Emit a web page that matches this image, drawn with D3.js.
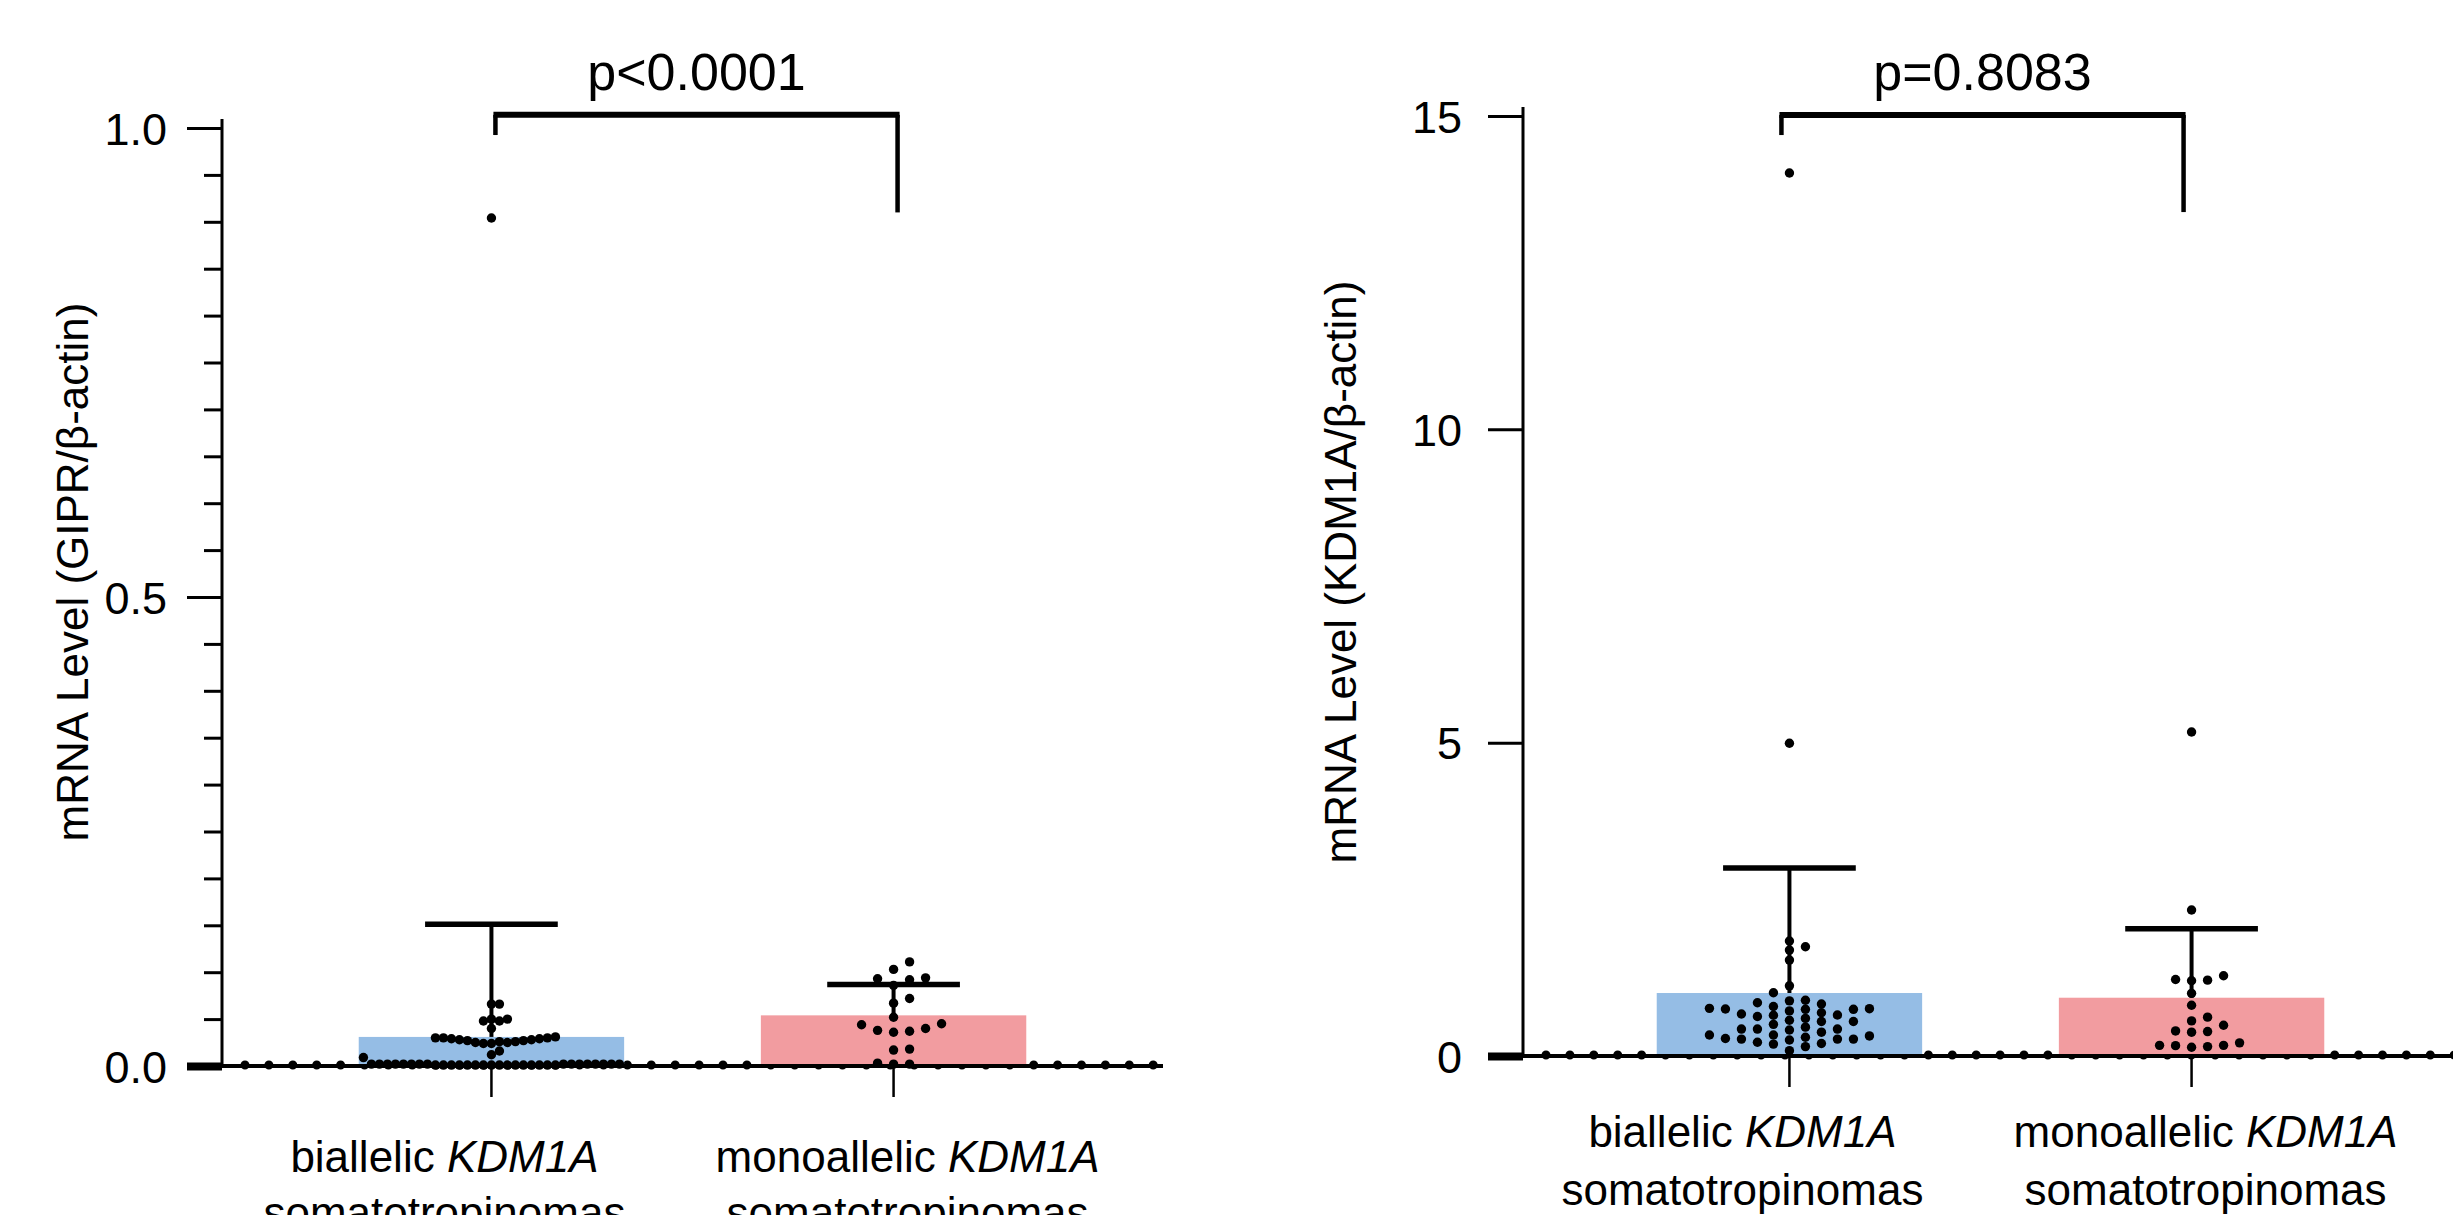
<!DOCTYPE html>
<html><head><meta charset="utf-8">
<script src="https://cdn.jsdelivr.net/npm/d3@7"></script>
<style>body{margin:0;background:#fff} svg{display:block}</style>
</head><body><svg id="c" width="2453" height="1215"></svg>
<script>
// ---------------- DATA ----------------
const categories = ["biallelic", "monoallelic"];
const labelLine1 = [["biallelic ", "KDM1A"], ["monoallelic ", "KDM1A"]];
const labelLine2 = ["somatotropinomas", "somatotropinomas"];

// Panel 1: GIPR / beta-actin
const giprBiallelic = [0.904, 0.066, 0.066, 0.050, 0.050, 0.048, 0.048, 0.040,
  0.031, 0.030, 0.030, 0.029, 0.028, 0.027, 0.026, 0.025, 0.024, 0.024, 0.025, 0.026, 0.027, 0.028, 0.029, 0.030,
  0.016, 0.012, 0.009,
  0.002, 0.001, 0.002, 0.001, 0.002, 0.001, 0.002, 0.001, 0.002, 0.001, 0.002, 0.001, 0.002, 0.001, 0.002, 0.001,
  0.002, 0.001, 0.002, 0.001, 0.002, 0.001, 0.002, 0.001, 0.002, 0.001, 0.002, 0.001, 0.002, 0.001, 0.002, 0.001];
const giprMonoallelic = [0.111, 0.103, 0.093, 0.092, 0.094, 0.086, 0.067, 0.072, 0.052, 0.045,
  0.037, 0.036, 0.038, 0.040, 0.044, 0.018, 0.017, 0.002, 0.003, 0.002];
const giprMean = [0.031, 0.054];
const giprSD = [0.120, 0.033];
const giprMajorTicks = [0, 0.5, 1.0];
const giprTickLabels = ["0.0", "0.5", "1.0"];
const giprMinorTicks = [0.05, 0.1, 0.15, 0.2, 0.25, 0.3, 0.35, 0.4, 0.45, 0.55, 0.6, 0.65, 0.7, 0.75, 0.8, 0.85, 0.9, 0.95];
const giprBracket = [1.014, 0.9925, 0.910]; // top, left leg end, right leg end
const giprP = "p<0.0001";
const giprTitle = "mRNA Level (GIPR/β-actin)";

// Panel 2: KDM1A / beta-actin
const kdmBiallelic = [14.09, 4.99, 1.835, 1.744, 1.69, 1.53, 1.12, 1.01,
  0.745, 0.335, 0.63, 0.43, 0.22, 0.88, 0.745, 0.505, 0.27, 0.654, 0.415, 0.27, 0.15,
  0.755, 0.6, 0.27, 0.67, 0.32, 0.19, 0.89, 0.76, 0.57, 0.46, 0.335, 0.2,
  0.85, 0.72, 0.55, 0.43, 0.255, 0.085, 0.83, 0.69, 0.55, 0.43, 0.28, 0.79, 0.65, 0.3, 0.75, 0.38];
const kdmMonoallelic = [5.17, 2.33, 1.28, 1.21, 1.22, 1.20, 1.0, 0.81, 0.62, 0.56, 0.49, 0.39, 0.38, 0.40,
  0.15, 0.21, 0.165, 0.17, 0.14, 0.17];
const kdmMean = [1.005, 0.93];
const kdmSD = [1.995, 1.10];
const kdmMajorTicks = [0, 5, 10, 15];
const kdmTickLabels = ["0", "5", "10", "15"];
const kdmMinorTicks = [];
const kdmBracket = [15.015, 14.696, 13.467];
const kdmP = "p=0.8083";
const kdmTitle = "mRNA Level (KDM1A/β-actin)";

// ---------------- LAYOUT ----------------
const FONT = "'Liberation Sans', Arial, Helvetica, sans-serif";
const colors = ["#95BDE5", "#F29CA0"];
const panels = [
  { groups: [giprBiallelic, giprMonoallelic], mean: giprMean, sd: giprSD, major: giprMajorTicks,
    labels: giprTickLabels, minor: giprMinorTicks, bracket: giprBracket, p: giprP, title: giprTitle,
    domainMax: 1.0, axisX: 222, y0: 1066, yMax: 128, tickPad: 20, titleX: 88, label1Y: 1172, lineGap: 56,
    steps: [8, 16], bracketDx: 4, bandOffset: 0 },
  { groups: [kdmBiallelic, kdmMonoallelic], mean: kdmMean, sd: kdmSD, major: kdmMajorTicks,
    labels: kdmTickLabels, minor: kdmMinorTicks, bracket: kdmBracket, p: kdmP, title: kdmTitle,
    domainMax: 15, axisX: 1523, y0: 1056, yMax: 116, tickPad: 26, titleX: 1356, label1Y: 1147, lineGap: 58,
    steps: [16, 16], bracketDx: -8, bandOffset: -3 }
];
const AXIS_LEN = 941, TICK = 35, MINOR = 18, R = 4.7, LABEL_DX = [-47, 14];

const svg = d3.select("#c");
svg.append("rect").attr("width", 2453).attr("height", 1215).attr("fill", "#fff");

function swarm(values, y, cx, step, dmin) {
  const pts = values.map(v => ({ v, y: y(v) })).sort((a, b) => a.v - b.v);
  const placed = [];
  for (const p of pts) {
    for (let k = 0; k < 400; k++) {
      const off = k === 0 ? 0 : (k % 2 === 1 ? Math.ceil(k / 2) : -k / 2);
      const x = cx + off * step;
      if (!placed.some(q => Math.abs(q.x - x) < step * 0.99 && Math.abs(q.y - p.y) < dmin)) {
        p.x = x; placed.push(p); break;
      }
    }
  }
  return placed;
}

panels.forEach(P => {
  const g = svg.append("g");
  const y = d3.scaleLinear().domain([0, P.domainMax]).range([P.y0, P.yMax]);
  const x = d3.scaleBand().domain(categories)
    .range([P.axisX + P.bandOffset, P.axisX + P.bandOffset + AXIS_LEN])
    .paddingInner(0.34).paddingOuter(0.34);
  const cx = c => x(c) + x.bandwidth() / 2;

  // minor ticks
  if (P.minor.length) {
    const minorAx = g.append("g").attr("transform", `translate(${P.axisX},0)`)
      .call(d3.axisLeft(y).tickValues(P.minor).tickSize(MINOR).tickFormat(""));
    minorAx.select(".domain").remove();
    minorAx.selectAll("line").attr("stroke", "#000").attr("stroke-width", 3);
  }
  // major ticks
  const majorAx = g.append("g").attr("transform", `translate(${P.axisX},0)`)
    .call(d3.axisLeft(y).tickValues(P.major).tickSize(TICK).tickPadding(P.tickPad)
      .tickFormat((d, i) => P.labels[i]));
  majorAx.select(".domain").remove();
  majorAx.selectAll("line").attr("stroke", "#000").attr("stroke-width", (d) => d === 0 ? 8 : 3);
  majorAx.selectAll("text").attr("font-family", FONT).attr("font-size", 45).attr("fill", "#000")
    .attr("dy", "0.36em");

  // y axis line
  g.append("line").attr("x1", P.axisX).attr("x2", P.axisX)
    .attr("y1", y(0)).attr("y2", y(P.domainMax) - 9).attr("stroke", "#000").attr("stroke-width", 3);

  // dotted pattern along x axis
  g.append("line").attr("x1", P.axisX + 23).attr("x2", P.axisX + AXIS_LEN)
    .attr("y1", y(0) - 1).attr("y2", y(0) - 1)
    .attr("stroke", "#000").attr("stroke-width", 9).attr("stroke-linecap", "round")
    .attr("stroke-dasharray", "0 23.9");

  // bars
  g.selectAll(".bar").data(categories).enter().append("rect")
    .attr("x", c => x(c)).attr("width", x.bandwidth())
    .attr("y", (c, i) => y(P.mean[i])).attr("height", (c, i) => y(0) - y(P.mean[i]) - 1)
    .attr("fill", (c, i) => colors[i]);

  // x axis line
  g.append("line").attr("x1", P.axisX).attr("x2", P.axisX + AXIS_LEN)
    .attr("y1", y(0)).attr("y2", y(0)).attr("stroke", "#000").attr("stroke-width", 4);

  // category ticks
  g.selectAll(".ct").data(categories).enter().append("line")
    .attr("x1", cx).attr("x2", cx).attr("y1", y(0)).attr("y2", y(0) + 31)
    .attr("stroke", "#000").attr("stroke-width", 2.5);

  // error bars
  categories.forEach((c, i) => {
    const top = y(P.mean[i] + P.sd[i]);
    g.append("line").attr("x1", cx(c)).attr("x2", cx(c)).attr("y1", y(P.mean[i])).attr("y2", top)
      .attr("stroke", "#000").attr("stroke-width", 4);
    g.append("line").attr("x1", cx(c) - x.bandwidth() / 4).attr("x2", cx(c) + x.bandwidth() / 4)
      .attr("y1", top).attr("y2", top).attr("stroke", "#000").attr("stroke-width", 5.5);
  });

  // data points
  categories.forEach((c, i) => {
    const pts = swarm(P.groups[i], y, cx(c), P.steps[i], 8.5);
    g.selectAll(null).data(pts).enter().append("circle")
      .attr("cx", d => d.x).attr("cy", d => d.y).attr("r", R).attr("fill", "#000");
  });

  // significance bracket
  const bx0 = cx(categories[0]) + P.bracketDx, bx1 = cx(categories[1]) + P.bracketDx;
  const bTop = y(P.bracket[0]);
  g.append("line").attr("x1", bx0 - 2).attr("x2", bx1 + 2).attr("y1", bTop).attr("y2", bTop)
    .attr("stroke", "#000").attr("stroke-width", 6);
  g.append("line").attr("x1", bx0).attr("x2", bx0).attr("y1", bTop).attr("y2", y(P.bracket[1]))
    .attr("stroke", "#000").attr("stroke-width", 4.5);
  g.append("line").attr("x1", bx1).attr("x2", bx1).attr("y1", bTop).attr("y2", y(P.bracket[2]))
    .attr("stroke", "#000").attr("stroke-width", 4.5);
  g.append("text").attr("x", (bx0 + bx1) / 2).attr("y", 90).attr("text-anchor", "middle")
    .attr("font-family", FONT).attr("font-size", 52).text(P.p);

  // category labels
  categories.forEach((c, i) => {
    const t = g.append("text").attr("x", cx(c) + LABEL_DX[i]).attr("y", P.label1Y)
      .attr("text-anchor", "middle").attr("font-family", FONT).attr("font-size", 44);
    t.append("tspan").text(labelLine1[i][0]);
    t.append("tspan").attr("font-style", "italic").text(labelLine1[i][1]);
    g.append("text").attr("x", cx(c) + LABEL_DX[i]).attr("y", P.label1Y + P.lineGap)
      .attr("text-anchor", "middle").attr("font-family", FONT).attr("font-size", 44).text(labelLine2[i]);
  });

  // y title
  g.append("text").attr("transform", `translate(${P.titleX},572) rotate(-90)`)
    .attr("text-anchor", "middle").attr("font-family", FONT).attr("font-size", 44).text(P.title);
});
</script></body></html>
